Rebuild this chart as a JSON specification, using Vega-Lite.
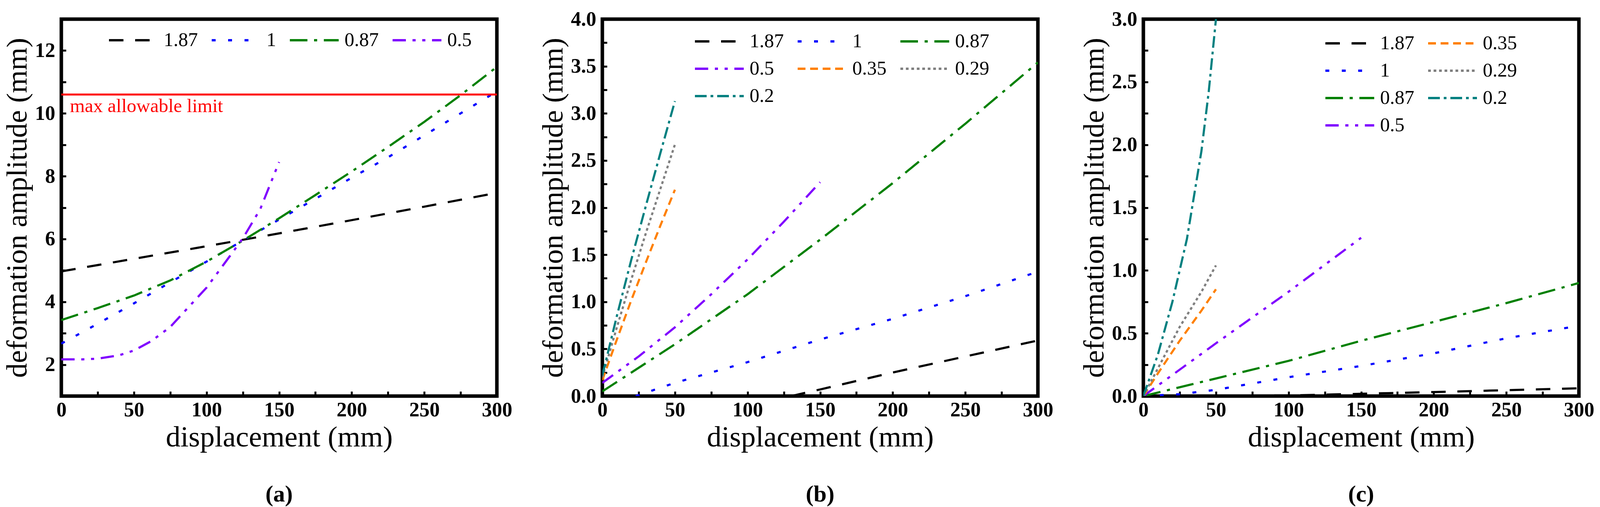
{
  "$schema": "https://vega.github.io/schema/vega-lite/v6.json",
  "background": "white",
  "padding": {"left": 2, "top": 18, "right": 5, "bottom": 5},
  "bounds": "flush",
  "spacing": 270,
  "datasets": {
    "a": [
      {"x": 0, "y": 4.97, "r": "1.87"}, {"x": 50, "y": 5.37, "r": "1.87"}, {"x": 100, "y": 5.77, "r": "1.87"},
      {"x": 150, "y": 6.18, "r": "1.87"}, {"x": 200, "y": 6.6, "r": "1.87"}, {"x": 250, "y": 7.03, "r": "1.87"},
      {"x": 300, "y": 7.47, "r": "1.87"},
      {"x": 0, "y": 2.67, "r": "1"}, {"x": 25, "y": 3.3, "r": "1"}, {"x": 50, "y": 3.95, "r": "1"},
      {"x": 75, "y": 4.62, "r": "1"}, {"x": 100, "y": 5.28, "r": "1"}, {"x": 125, "y": 5.95, "r": "1"},
      {"x": 150, "y": 6.62, "r": "1"}, {"x": 175, "y": 7.28, "r": "1"}, {"x": 200, "y": 7.95, "r": "1"},
      {"x": 225, "y": 8.6, "r": "1"}, {"x": 250, "y": 9.3, "r": "1"}, {"x": 275, "y": 10.0, "r": "1"},
      {"x": 300, "y": 10.7, "r": "1"},
      {"x": 0, "y": 3.42, "r": "0.87"}, {"x": 25, "y": 3.8, "r": "0.87"}, {"x": 50, "y": 4.2, "r": "0.87"},
      {"x": 75, "y": 4.68, "r": "0.87"}, {"x": 100, "y": 5.28, "r": "0.87"}, {"x": 125, "y": 5.95, "r": "0.87"},
      {"x": 150, "y": 6.66, "r": "0.87"}, {"x": 175, "y": 7.4, "r": "0.87"}, {"x": 200, "y": 8.15, "r": "0.87"},
      {"x": 225, "y": 8.93, "r": "0.87"}, {"x": 250, "y": 9.73, "r": "0.87"}, {"x": 275, "y": 10.58, "r": "0.87"},
      {"x": 300, "y": 11.48, "r": "0.87"},
      {"x": 0, "y": 2.17, "r": "0.5"}, {"x": 15, "y": 2.17, "r": "0.5"}, {"x": 25, "y": 2.19, "r": "0.5"},
      {"x": 40, "y": 2.3, "r": "0.5"}, {"x": 50, "y": 2.45, "r": "0.5"}, {"x": 62, "y": 2.75, "r": "0.5"},
      {"x": 75, "y": 3.2, "r": "0.5"}, {"x": 87, "y": 3.8, "r": "0.5"}, {"x": 100, "y": 4.45, "r": "0.5"},
      {"x": 112, "y": 5.2, "r": "0.5"}, {"x": 125, "y": 6.02, "r": "0.5"}, {"x": 137, "y": 6.95, "r": "0.5"},
      {"x": 150, "y": 8.45, "r": "0.5"}
    ],
    "limit": [
      {"limit": 10.6, "label": "max allowable limit"}
    ],
    "b": [
      {"x": 130, "y": 0, "r": "1.87"}, {"x": 150, "y": 0.07, "r": "1.87"}, {"x": 200, "y": 0.25, "r": "1.87"},
      {"x": 250, "y": 0.42, "r": "1.87"}, {"x": 300, "y": 0.59, "r": "1.87"},
      {"x": 23, "y": 0, "r": "1"}, {"x": 50, "y": 0.14, "r": "1"}, {"x": 100, "y": 0.36, "r": "1"},
      {"x": 150, "y": 0.6, "r": "1"}, {"x": 200, "y": 0.82, "r": "1"}, {"x": 250, "y": 1.06, "r": "1"},
      {"x": 300, "y": 1.32, "r": "1"},
      {"x": 0, "y": 0.05, "r": "0.87"}, {"x": 50, "y": 0.55, "r": "0.87"}, {"x": 100, "y": 1.08, "r": "0.87"},
      {"x": 150, "y": 1.66, "r": "0.87"}, {"x": 200, "y": 2.26, "r": "0.87"}, {"x": 250, "y": 2.89, "r": "0.87"},
      {"x": 300, "y": 3.54, "r": "0.87"},
      {"x": 0, "y": 0.14, "r": "0.5"}, {"x": 25, "y": 0.42, "r": "0.5"}, {"x": 50, "y": 0.73, "r": "0.5"},
      {"x": 75, "y": 1.08, "r": "0.5"}, {"x": 100, "y": 1.45, "r": "0.5"}, {"x": 125, "y": 1.85, "r": "0.5"},
      {"x": 150, "y": 2.27, "r": "0.5"},
      {"x": 0, "y": 0.17, "r": "0.35"}, {"x": 10, "y": 0.6, "r": "0.35"}, {"x": 20, "y": 1.02, "r": "0.35"},
      {"x": 30, "y": 1.42, "r": "0.35"}, {"x": 40, "y": 1.81, "r": "0.35"}, {"x": 50, "y": 2.19, "r": "0.35"},
      {"x": 0, "y": 0.2, "r": "0.29"}, {"x": 10, "y": 0.73, "r": "0.29"}, {"x": 20, "y": 1.24, "r": "0.29"},
      {"x": 30, "y": 1.73, "r": "0.29"}, {"x": 40, "y": 2.2, "r": "0.29"}, {"x": 50, "y": 2.67, "r": "0.29"},
      {"x": 0, "y": 0.22, "r": "0.2"}, {"x": 10, "y": 0.85, "r": "0.2"}, {"x": 20, "y": 1.45, "r": "0.2"},
      {"x": 30, "y": 2.02, "r": "0.2"}, {"x": 40, "y": 2.58, "r": "0.2"}, {"x": 50, "y": 3.13, "r": "0.2"}
    ],
    "c": [
      {"x": 0, "y": 0, "r": "1.87"}, {"x": 100, "y": 0.005, "r": "1.87"}, {"x": 150, "y": 0.018, "r": "1.87"},
      {"x": 200, "y": 0.032, "r": "1.87"}, {"x": 250, "y": 0.047, "r": "1.87"}, {"x": 300, "y": 0.062, "r": "1.87"},
      {"x": 0, "y": 0, "r": "1"}, {"x": 25, "y": 0.015, "r": "1"}, {"x": 50, "y": 0.05, "r": "1"},
      {"x": 100, "y": 0.15, "r": "1"}, {"x": 150, "y": 0.24, "r": "1"}, {"x": 200, "y": 0.34, "r": "1"},
      {"x": 250, "y": 0.46, "r": "1"}, {"x": 300, "y": 0.56, "r": "1"},
      {"x": 0, "y": 0, "r": "0.87"}, {"x": 50, "y": 0.14, "r": "0.87"}, {"x": 100, "y": 0.28, "r": "0.87"},
      {"x": 150, "y": 0.44, "r": "0.87"}, {"x": 200, "y": 0.59, "r": "0.87"}, {"x": 250, "y": 0.74, "r": "0.87"},
      {"x": 300, "y": 0.9, "r": "0.87"},
      {"x": 0, "y": 0, "r": "0.5"}, {"x": 50, "y": 0.42, "r": "0.5"}, {"x": 100, "y": 0.83, "r": "0.5"},
      {"x": 150, "y": 1.26, "r": "0.5"},
      {"x": 0, "y": 0, "r": "0.35"}, {"x": 10, "y": 0.18, "r": "0.35"}, {"x": 25, "y": 0.44, "r": "0.35"},
      {"x": 40, "y": 0.68, "r": "0.35"}, {"x": 50, "y": 0.85, "r": "0.35"},
      {"x": 0, "y": 0, "r": "0.29"}, {"x": 10, "y": 0.22, "r": "0.29"}, {"x": 25, "y": 0.55, "r": "0.29"},
      {"x": 40, "y": 0.83, "r": "0.29"}, {"x": 50, "y": 1.04, "r": "0.29"},
      {"x": 0, "y": 0, "r": "0.2"}, {"x": 10, "y": 0.33, "r": "0.2"}, {"x": 20, "y": 0.75, "r": "0.2"},
      {"x": 30, "y": 1.25, "r": "0.2"}, {"x": 40, "y": 1.95, "r": "0.2"}, {"x": 45, "y": 2.42, "r": "0.2"},
      {"x": 50, "y": 3.0, "r": "0.2"}
    ]
  },
  "hconcat": [
    {
      "width": 1115,
      "height": 965,
      "title": {"text": "(a)", "orient": "bottom", "anchor": "middle", "offset": 80},
      "layer": [
        {
          "data": {"name": "a"},
          "mark": {"type": "line", "strokeWidth": 5.5, "clip": true},
          "encoding": {
            "x": {
              "field": "x", "type": "quantitative", "title": "displacement (mm)",
              "scale": {"domain": [0, 300], "nice": false},
              "axis": {"values": [0, 25, 50, 75, 100, 125, 150, 175, 200, 225, 250, 275, 300], "labelExpr": "datum.value % 50 === 0 ? format(datum.value, 'd') : ''"}
            },
            "y": {
              "field": "y", "type": "quantitative", "title": "deformation amplitude (mm)",
              "scale": {"domain": [1, 13], "nice": false, "zero": false},
              "axis": {"values": [2, 3, 4, 5, 6, 7, 8, 9, 10, 11, 12], "labelExpr": "datum.value % 2 === 0 ? format(datum.value, 'd') : ''"}
            },
            "color": {
              "field": "r", "type": "nominal",
              "scale": {"domain": ["1.87", "1", "0.87", "0.5"], "range": ["#000000", "#0000ff", "#008000", "#8000ff"]},
              "legend": {"orient": "none", "legendX": 119, "legendY": 29, "direction": "horizontal", "columns": 4, "title": null}
            },
            "strokeDash": {
              "field": "r", "type": "nominal",
              "scale": {"domain": ["1.87", "1", "0.87", "0.5"], "range": [[37, 30], [10, 32], [45, 17, 8, 17], [34, 17, 8, 17, 8, 17]]},
              "legend": {"orient": "none", "legendX": 119, "legendY": 29, "direction": "horizontal", "columns": 4, "title": null}
            }
          }
        },
        {
          "data": {"name": "limit"},
          "mark": {"type": "rule", "color": "#ff0000", "strokeWidth": 5},
          "encoding": {
            "y": {"field": "limit", "type": "quantitative"}
          }
        },
        {
          "data": {"name": "limit"},
          "mark": {"type": "text", "color": "#ff0000", "fontSize": 49, "align": "left", "baseline": "top", "dx": 22, "dy": 6},
          "encoding": {
            "x": {"datum": 0, "type": "quantitative"},
            "y": {"field": "limit", "type": "quantitative"},
            "text": {"field": "label"}
          }
        }
      ]
    },
    {
      "width": 1115,
      "height": 965,
      "title": {"text": "(b)", "orient": "bottom", "anchor": "middle", "offset": 80},
      "data": {"name": "b"},
      "mark": {"type": "line", "strokeWidth": 5.5, "clip": true},
      "encoding": {
        "x": {
          "field": "x", "type": "quantitative", "title": "displacement (mm)",
          "scale": {"domain": [0, 300], "nice": false},
          "axis": {"values": [0, 25, 50, 75, 100, 125, 150, 175, 200, 225, 250, 275, 300], "labelExpr": "datum.value % 50 === 0 ? format(datum.value, 'd') : ''"}
        },
        "y": {
          "field": "y", "type": "quantitative", "title": "deformation amplitude (mm)",
          "scale": {"domain": [0, 4], "nice": false},
          "axis": {"values": [0, 0.25, 0.5, 0.75, 1, 1.25, 1.5, 1.75, 2, 2.25, 2.5, 2.75, 3, 3.25, 3.5, 3.75, 4], "labelExpr": "(datum.value * 2) % 1 === 0 ? format(datum.value, '.1f') : ''"}
        },
        "color": {
          "field": "r", "type": "nominal",
          "scale": {"domain": ["1.87", "1", "0.87", "0.5", "0.35", "0.29", "0.2"], "range": ["#000000", "#0000ff", "#008000", "#8000ff", "#ff8000", "#808080", "#008080"]},
          "legend": {"orient": "none", "legendX": 234, "legendY": 32, "direction": "horizontal", "columns": 3, "title": null}
        },
        "strokeDash": {
          "field": "r", "type": "nominal",
          "scale": {"domain": ["1.87", "1", "0.87", "0.5", "0.35", "0.29", "0.2"], "range": [[37, 30], [10, 32], [45, 17, 8, 17], [34, 17, 8, 17, 8, 17], [20, 12], [7, 7], [30, 10, 7, 10]]},
          "legend": {"orient": "none", "legendX": 234, "legendY": 32, "direction": "horizontal", "columns": 3, "title": null}
        }
      }
    },
    {
      "width": 1115,
      "height": 965,
      "title": {"text": "(c)", "orient": "bottom", "anchor": "middle", "offset": 80},
      "data": {"name": "c"},
      "mark": {"type": "line", "strokeWidth": 5.5, "clip": true},
      "encoding": {
        "x": {
          "field": "x", "type": "quantitative", "title": "displacement (mm)",
          "scale": {"domain": [0, 300], "nice": false},
          "axis": {"values": [0, 25, 50, 75, 100, 125, 150, 175, 200, 225, 250, 275, 300], "labelExpr": "datum.value % 50 === 0 ? format(datum.value, 'd') : ''"}
        },
        "y": {
          "field": "y", "type": "quantitative", "title": "deformation amplitude (mm)",
          "scale": {"domain": [0, 3], "nice": false},
          "axis": {"values": [0, 0.25, 0.5, 0.75, 1, 1.25, 1.5, 1.75, 2, 2.25, 2.5, 2.75, 3], "labelExpr": "(datum.value * 2) % 1 === 0 ? format(datum.value, '.1f') : ''"}
        },
        "color": {
          "field": "r", "type": "nominal",
          "scale": {"domain": ["1.87", "0.35", "1", "0.29", "0.87", "0.2", "0.5"], "range": ["#000000", "#ff8000", "#0000ff", "#808080", "#008000", "#008080", "#8000ff"]},
          "legend": {"orient": "none", "legendX": 463, "legendY": 37, "direction": "horizontal", "columns": 2, "title": null}
        },
        "strokeDash": {
          "field": "r", "type": "nominal",
          "scale": {"domain": ["1.87", "0.35", "1", "0.29", "0.87", "0.2", "0.5"], "range": [[37, 30], [20, 12], [10, 32], [7, 7], [45, 17, 8, 17], [30, 10, 7, 10], [34, 17, 8, 17, 8, 17]]},
          "legend": {"orient": "none", "legendX": 463, "legendY": 37, "direction": "horizontal", "columns": 2, "title": null}
        }
      }
    }
  ],
  "resolve": {"scale": {"color": "independent", "strokeDash": "independent"}},
  "config": {
    "font": "Liberation Serif",
    "view": {"stroke": "#000000", "strokeWidth": 9},
    "title": {"font": "Liberation Serif", "fontSize": 60, "fontWeight": "bold", "color": "#000000"},
    "text": {"font": "Liberation Serif"},
    "axis": {
      "domain": false,
      "grid": false,
      "ticks": true,
      "tickSize": -12,
      "tickWidth": 5,
      "tickColor": "#000000",
      "labelFont": "Liberation Serif",
      "labelFontWeight": "bold",
      "labelFontSize": 52,
      "labelColor": "#000000",
      "labelPadding": 28,
      "labelOverlap": false,
      "labelFlush": false,
      "titleFont": "Liberation Serif",
      "titleFontWeight": "normal",
      "titleFontSize": 75,
      "titleColor": "#000000",
      "titlePadding": 6
    },
    "axisX": {"labelPadding": 22, "titlePadding": 8},
    "legend": {
      "labelFont": "Liberation Serif",
      "labelFontSize": 50,
      "labelColor": "#000000",
      "symbolStrokeWidth": 6,
      "symbolSize": 15625,
      "symbolType": "stroke",
      "labelOffset": 12,
      "clipHeight": 50,
      "columnPadding": 32,
      "rowPadding": 20,
      "padding": 0
    }
  }
}
